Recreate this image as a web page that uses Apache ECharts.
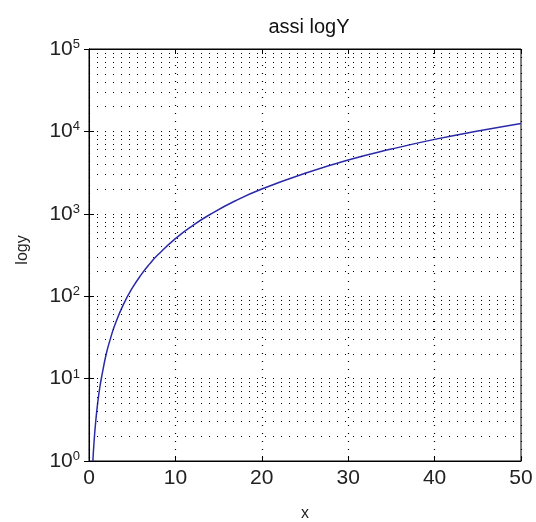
<!DOCTYPE html>
<html>
<head>
<meta charset="utf-8">
<script src="https://cdn.jsdelivr.net/npm/echarts@6/dist/echarts.min.js"></script>
<style>html,body{margin:0;padding:0;background:#fff}#c{width:536px;height:522px}</style>
</head>
<body>
<div id="c"></div>
<script>
// Data
var xValues = [0.45, 0.6, 0.8, 1, 1.25, 1.5, 2, 2.5, 3, 4, 5, 6, 7, 8, 10, 12, 14, 17, 20, 25, 30, 35, 40, 45, 50];
var yValues = [1, 1.8, 3.2, 5, 7.8, 11, 20, 31, 45, 80, 125, 180, 245, 320, 500, 720, 980, 1450, 2000, 3100, 4500, 6100, 8000, 10100, 12500];
var xTicks = [0, 10, 20, 30, 40, 50];
var yDecades = [1, 10, 100, 1000, 10000, 100000];
var minorMultipliers = [2, 3, 4, 5, 6, 7, 8, 9];
var titleText = 'assi logY';
var xLabel = 'x';
var yLabel = 'logy';

var pts = xValues.map(function (x, i) { return [x, yValues[i]]; });
var minorLines = [];
yDecades.slice(0, -1).forEach(function (d) {
  minorMultipliers.forEach(function (m) { minorLines.push({ yAxis: d * m }); });
});

var font = 'Liberation Sans, Arial, sans-serif';
var dotted = { color: '#000', width: 1.2, type: [1, 7] };

var yLabelCfg = {
  show: true,
  margin: 9,
  formatter: function (v) { return '{b|10}{e|' + Math.round(Math.log10(v)) + '}'; },
  rich: {
    b: { fontSize: 21, fontFamily: font, color: '#222', lineHeight: 22 },
    e: { fontSize: 13, fontFamily: font, color: '#222', verticalAlign: 'top', lineHeight: 22, padding: [0, 0, 10, 0] }
  }
};

var chart = echarts.init(document.getElementById('c'), null, { renderer: 'canvas' });
chart.setOption({
  backgroundColor: '#fff',
  animation: false,
  title: {
    text: titleText, top: 12, left: 304, textAlign: 'center',
    textStyle: { fontSize: 20, fontWeight: 'normal', fontFamily: font, color: '#111' }
  },
  grid: { left: 89, right: 15, top: 49, bottom: 61, show: true, borderColor: '#000', borderWidth: 1, outerBoundsMode: 'none', containLabel: false },
  xAxis: [{
    type: 'value', min: 0, max: 50, interval: 10,
    name: xLabel, nameLocation: 'middle', nameGap: 45,
    nameTextStyle: { fontSize: 16, fontFamily: font, color: '#222' },
    axisLine: { show: true, lineStyle: { color: '#000', width: 1 } },
    axisTick: { show: true, inside: true, length: 5, lineStyle: { color: '#000' } },
    axisLabel: { fontSize: 21, fontFamily: font, color: '#222', margin: 7 },
    splitLine: { show: true, lineStyle: dotted }
  }, {
    type: 'value', min: 0, max: 50, interval: 10, position: 'top',
    axisLine: { show: true, lineStyle: { color: '#000' } },
    axisTick: { show: true, inside: true, length: 5, lineStyle: { color: '#000' } },
    axisLabel: { show: false }, splitLine: { show: false }
  }],
  yAxis: [{
    type: 'log', logBase: 10, min: 1, max: 100000,
    name: yLabel, nameLocation: 'middle', nameGap: 58, nameRotate: 90,
    nameTextStyle: { fontSize: 16, fontFamily: font, color: '#222', padding: [0, 0, 0, 10] },
    axisLine: { show: true, lineStyle: { color: '#000', width: 1 } },
    axisTick: { show: true, inside: true, length: 5, lineStyle: { color: '#000' } },
    axisLabel: yLabelCfg,
    splitLine: { show: true, lineStyle: dotted }
  }, {
    type: 'log', logBase: 10, min: 1, max: 100000, position: 'right',
    axisLine: { show: true, lineStyle: { color: '#000' } },
    axisTick: { show: true, inside: true, length: 5, lineStyle: { color: '#000' } },
    axisLabel: { show: false }, splitLine: { show: false }
  }],
  series: [{
    type: 'line', data: pts, xAxisIndex: 0, yAxisIndex: 0,
    showSymbol: false, smooth: true,
    lineStyle: { color: '#2a2aa8', width: 1.5 },
    markLine: {
      silent: true, symbol: ['none', 'none'], label: { show: false },
      lineStyle: dotted, animation: false,
      data: minorLines
    }
  }]
});
</script>
</body>
</html>
